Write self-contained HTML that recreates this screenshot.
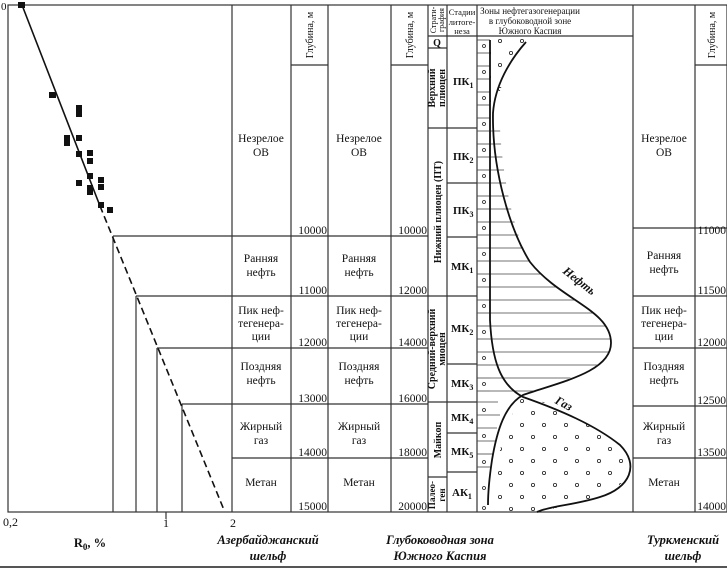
<!DOCTYPE html>
<html><head><meta charset="utf-8"><style>
html,body{margin:0;padding:0;background:#fff;}
svg{display:block;}
text{font-family:"Liberation Serif",serif;fill:#111;}
.l{font-size:11.5px;text-anchor:middle;}
.d{font-size:11.5px;text-anchor:end;}
.b{font-weight:bold;}
.t{font-size:12.5px;font-weight:bold;font-style:italic;text-anchor:middle;}
</style></head><body>
<svg width="727" height="572" viewBox="0 0 727 572" xmlns="http://www.w3.org/2000/svg">
<defs>
<pattern id="dots" x="0" y="0" width="22" height="24" patternUnits="userSpaceOnUse">
<circle cx="5" cy="5" r="1.6" fill="none" stroke="#222" stroke-width="0.8"/>
<circle cx="16" cy="17" r="1.6" fill="none" stroke="#222" stroke-width="0.8"/>
</pattern>
<clipPath id="oilclip"><path d="M490,128 L500,128 C502,170 512,230 530,262 C560,300 611,310 611,343 C611,370 560,380 523,395 L490,395 Z"/></clipPath>
<clipPath id="gasclip"><path d="M523,396 C560,405 590,425 618,445 C640,462 630,485 600,496 C580,504 555,508 537,512 L494,512 C494,470 500,430 523,396 Z"/></clipPath>
<clipPath id="topclip"><path d="M490,38 L530,38 C520,55 500,80 493,113 L490,113 Z"/></clipPath>
</defs>
<g stroke="#333" stroke-width="1.2" fill="none">
<rect x="8" y="5" width="719" height="507"/>
<line x1="232" y1="5" x2="232" y2="512"/>
<line x1="291" y1="5" x2="291" y2="512"/>
<line x1="328" y1="5" x2="328" y2="512"/>
<line x1="391" y1="5" x2="391" y2="512"/>
<line x1="428" y1="5" x2="428" y2="512"/>
<line x1="447" y1="5" x2="447" y2="512"/>
<line x1="477" y1="5" x2="477" y2="512"/>
<line x1="633" y1="5" x2="633" y2="512"/>
<line x1="695" y1="5" x2="695" y2="512"/>
<line x1="291" y1="65" x2="328" y2="65"/>
<line x1="391" y1="65" x2="428" y2="65"/>
<line x1="695" y1="65" x2="727" y2="65"/>
<line x1="428" y1="36" x2="633" y2="36"/>
<line x1="113" y1="236" x2="428" y2="236"/>
<line x1="136" y1="296" x2="428" y2="296"/>
<line x1="157" y1="348" x2="428" y2="348"/>
<line x1="182" y1="404" x2="428" y2="404"/>
<line x1="232" y1="458" x2="428" y2="458"/>
<line x1="113" y1="236" x2="113" y2="512"/>
<line x1="136" y1="296" x2="136" y2="512"/>
<line x1="157" y1="348" x2="157" y2="512"/>
<line x1="182" y1="404" x2="182" y2="512"/>
<line x1="633" y1="228" x2="727" y2="228"/>
<line x1="633" y1="296" x2="727" y2="296"/>
<line x1="633" y1="348" x2="727" y2="348"/>
<line x1="633" y1="406" x2="727" y2="406"/>
<line x1="633" y1="458" x2="727" y2="458"/>
<line x1="428" y1="48" x2="447" y2="48"/>
<line x1="428" y1="128" x2="447" y2="128"/>
<line x1="428" y1="296" x2="447" y2="296"/>
<line x1="428" y1="402" x2="447" y2="402"/>
<line x1="428" y1="477" x2="447" y2="477"/>
<line x1="447" y1="128" x2="477" y2="128"/>
<line x1="447" y1="183" x2="477" y2="183"/>
<line x1="447" y1="237" x2="477" y2="237"/>
<line x1="447" y1="296" x2="477" y2="296"/>
<line x1="447" y1="364" x2="477" y2="364"/>
<line x1="447" y1="402" x2="477" y2="402"/>
<line x1="447" y1="433" x2="477" y2="433"/>
<line x1="447" y1="472" x2="477" y2="472"/>
<line x1="166" y1="512" x2="166" y2="519"/>
</g>
<line x1="0" y1="567" x2="727" y2="567" stroke="#555" stroke-width="2"/>
<line x1="22" y1="5" x2="100" y2="206" stroke="#111" stroke-width="1.6"/>
<line x1="100" y1="206" x2="224" y2="510" stroke="#111" stroke-width="1.6" stroke-dasharray="7,4"/>
<g fill="#111">
<rect x="18" y="2" width="7" height="6"/>
<rect x="49" y="92" width="7" height="6"/>
<rect x="76" y="105" width="6" height="12"/>
<rect x="64" y="135" width="6" height="11"/>
<rect x="76" y="135" width="6" height="6"/>
<rect x="76" y="151" width="6" height="6"/>
<rect x="87" y="150" width="6" height="6"/>
<rect x="87" y="158" width="6" height="6"/>
<rect x="87" y="173" width="6" height="6"/>
<rect x="98" y="177" width="6" height="6"/>
<rect x="98" y="184" width="6" height="6"/>
<rect x="76" y="180" width="6" height="6"/>
<rect x="87" y="185" width="6" height="10"/>
<rect x="98" y="202" width="6" height="6"/>
<rect x="107" y="207" width="6" height="6"/>
</g>
<g stroke="#444" stroke-width="0.8">
<line x1="477" y1="40" x2="490" y2="40"/><line x1="477" y1="53" x2="490" y2="53"/><line x1="477" y1="66" x2="490" y2="66"/><line x1="477" y1="79" x2="490" y2="79"/><line x1="477" y1="92" x2="490" y2="92"/><line x1="477" y1="105" x2="490" y2="105"/><line x1="477" y1="118" x2="490" y2="118"/>
<line x1="477" y1="402" x2="498" y2="402"/><line x1="477" y1="415" x2="500" y2="415"/><line x1="477" y1="428" x2="497" y2="428"/><line x1="477" y1="441" x2="495" y2="441"/><line x1="477" y1="454" x2="493" y2="454"/><line x1="477" y1="467" x2="490" y2="467"/>
</g>
<g stroke="#444" stroke-width="0.8" clip-path="url(#oilclip)">
<line x1="477" y1="131" x2="620" y2="131"/><line x1="477" y1="144" x2="620" y2="144"/><line x1="477" y1="157" x2="620" y2="157"/><line x1="477" y1="170" x2="620" y2="170"/><line x1="477" y1="183" x2="620" y2="183"/><line x1="477" y1="196" x2="620" y2="196"/><line x1="477" y1="209" x2="620" y2="209"/><line x1="477" y1="222" x2="620" y2="222"/><line x1="477" y1="235" x2="620" y2="235"/><line x1="477" y1="248" x2="620" y2="248"/><line x1="477" y1="261" x2="620" y2="261"/><line x1="477" y1="274" x2="620" y2="274"/><line x1="477" y1="287" x2="620" y2="287"/><line x1="477" y1="300" x2="620" y2="300"/><line x1="477" y1="313" x2="620" y2="313"/><line x1="477" y1="326" x2="620" y2="326"/><line x1="477" y1="339" x2="620" y2="339"/><line x1="477" y1="352" x2="620" y2="352"/><line x1="477" y1="365" x2="620" y2="365"/><line x1="477" y1="378" x2="620" y2="378"/><line x1="477" y1="391" x2="620" y2="391"/>
</g>
<g stroke="#444" stroke-width="0.8">
<line x1="477" y1="131" x2="490" y2="131"/><line x1="477" y1="144" x2="490" y2="144"/><line x1="477" y1="157" x2="490" y2="157"/><line x1="477" y1="170" x2="490" y2="170"/><line x1="477" y1="183" x2="490" y2="183"/><line x1="477" y1="196" x2="490" y2="196"/><line x1="477" y1="209" x2="490" y2="209"/><line x1="477" y1="222" x2="490" y2="222"/><line x1="477" y1="235" x2="490" y2="235"/><line x1="477" y1="248" x2="490" y2="248"/><line x1="477" y1="261" x2="490" y2="261"/><line x1="477" y1="274" x2="490" y2="274"/><line x1="477" y1="287" x2="490" y2="287"/><line x1="477" y1="300" x2="490" y2="300"/><line x1="477" y1="313" x2="490" y2="313"/><line x1="477" y1="326" x2="490" y2="326"/><line x1="477" y1="339" x2="490" y2="339"/><line x1="477" y1="352" x2="490" y2="352"/><line x1="477" y1="365" x2="490" y2="365"/><line x1="477" y1="378" x2="490" y2="378"/><line x1="477" y1="391" x2="490" y2="391"/>
</g>
<rect x="490" y="396" width="150" height="116" fill="url(#dots)" clip-path="url(#gasclip)"/>
<rect x="490" y="38" width="40" height="80" fill="url(#dots)" clip-path="url(#topclip)"/>
<g fill="none" stroke="#222" stroke-width="0.8">
<circle cx="484" cy="46" r="1.5"/><circle cx="484" cy="72" r="1.5"/><circle cx="484" cy="98" r="1.5"/><circle cx="484" cy="124" r="1.5"/><circle cx="484" cy="150" r="1.5"/><circle cx="484" cy="176" r="1.5"/><circle cx="484" cy="202" r="1.5"/><circle cx="484" cy="228" r="1.5"/><circle cx="484" cy="254" r="1.5"/><circle cx="484" cy="280" r="1.5"/><circle cx="484" cy="306" r="1.5"/><circle cx="484" cy="332" r="1.5"/><circle cx="484" cy="358" r="1.5"/><circle cx="484" cy="384" r="1.5"/><circle cx="484" cy="410" r="1.5"/><circle cx="484" cy="436" r="1.5"/><circle cx="484" cy="462" r="1.5"/><circle cx="484" cy="488" r="1.5"/><circle cx="484" cy="508" r="1.5"/>
</g>
<path d="M526,42 C510,60 495,85 493,113 C492,170 510,230 530,262 C560,300 611,310 611,343 C611,372 560,382 523,395 C505,405 497,430 492,460 C489,480 488,495 488,505" fill="none" stroke="#111" stroke-width="1.8"/>
<path d="M490,40 L490,320 C492,360 500,385 523,397 C560,410 595,425 620,445 C640,465 630,488 600,497 C575,505 550,506 537,512" fill="none" stroke="#111" stroke-width="1.8"/>
<text x="577" y="284" transform="rotate(38 577 284)" style="font-size:12px;font-weight:bold;font-style:italic;text-anchor:middle">Нефть</text>
<text x="562" y="407" transform="rotate(28 562 407)" style="font-size:12px;font-weight:bold;font-style:italic;text-anchor:middle">Газ</text>
<text x="530" y="14" style="font-size:9px;text-anchor:middle">Зоны нефтегазогенерации</text>
<text x="530" y="24" style="font-size:9px;text-anchor:middle">в глубоководной зоне</text>
<text x="530" y="34" style="font-size:9px;text-anchor:middle">Южного Каспия</text>
<text x="462" y="15" style="font-size:8.5px;text-anchor:middle">Стадии</text>
<text x="462" y="25" style="font-size:8.5px;text-anchor:middle">литоге-</text>
<text x="462" y="34" style="font-size:8.5px;text-anchor:middle">неза</text>
<text transform="translate(436,20) rotate(-90)" style="font-size:8px;text-anchor:middle">Страти-</text>
<text transform="translate(444,20) rotate(-90)" style="font-size:8px;text-anchor:middle">графия</text>
<text transform="translate(313,35) rotate(-90)" style="font-size:10px;text-anchor:middle">Глубина, м</text>
<text transform="translate(413,35) rotate(-90)" style="font-size:10px;text-anchor:middle">Глубина, м</text>
<text transform="translate(715,35) rotate(-90)" style="font-size:10px;text-anchor:middle">Глубина, м</text>
<text x="437" y="46" class="b" style="font-size:10px;text-anchor:middle">Q</text>
<text transform="translate(435,88) rotate(-90)" class="b" style="font-size:10px;text-anchor:middle">Верхний</text>
<text transform="translate(445,88) rotate(-90)" class="b" style="font-size:10px;text-anchor:middle">плиоцен</text>
<text transform="translate(441,212) rotate(-90)" class="b" style="font-size:10px;text-anchor:middle">Нижний плиоцен (ПТ)</text>
<text transform="translate(435,349) rotate(-90)" class="b" style="font-size:10px;text-anchor:middle">Средний-верхний</text>
<text transform="translate(445,349) rotate(-90)" class="b" style="font-size:10px;text-anchor:middle">миоцен</text>
<text transform="translate(441,440) rotate(-90)" class="b" style="font-size:10px;text-anchor:middle">Майкоп</text>
<text transform="translate(435,495) rotate(-90)" class="b" style="font-size:9px;text-anchor:middle">Палео-</text>
<text transform="translate(445,495) rotate(-90)" class="b" style="font-size:9px;text-anchor:middle">ген</text>
<g class="b" style="font-size:11px">
<text x="453" y="85">ПК<tspan dy="3" font-size="8">1</tspan></text>
<text x="453" y="160">ПК<tspan dy="3" font-size="8">2</tspan></text>
<text x="453" y="214">ПК<tspan dy="3" font-size="8">3</tspan></text>
<text x="451" y="270">МК<tspan dy="3" font-size="8">1</tspan></text>
<text x="451" y="332">МК<tspan dy="3" font-size="8">2</tspan></text>
<text x="451" y="387">МК<tspan dy="3" font-size="8">3</tspan></text>
<text x="451" y="421">МК<tspan dy="3" font-size="8">4</tspan></text>
<text x="451" y="455">МК<tspan dy="3" font-size="8">5</tspan></text>
<text x="452" y="496">АК<tspan dy="3" font-size="8">1</tspan></text>
</g>
<g class="l">
<text x="261" y="142">Незрелое</text><text x="261" y="156">ОВ</text>
<text x="261" y="262">Ранняя</text><text x="261" y="276">нефть</text>
<text x="261" y="314">Пик неф-</text><text x="261" y="327">тегенера-</text><text x="261" y="340">ции</text>
<text x="261" y="370">Поздняя</text><text x="261" y="384">нефть</text>
<text x="261" y="430">Жирный</text><text x="261" y="444">газ</text>
<text x="261" y="486">Метан</text>
<text x="359" y="142">Незрелое</text><text x="359" y="156">ОВ</text>
<text x="359" y="262">Ранняя</text><text x="359" y="276">нефть</text>
<text x="359" y="314">Пик неф-</text><text x="359" y="327">тегенера-</text><text x="359" y="340">ции</text>
<text x="359" y="370">Поздняя</text><text x="359" y="384">нефть</text>
<text x="359" y="430">Жирный</text><text x="359" y="444">газ</text>
<text x="359" y="486">Метан</text>
<text x="664" y="142">Незрелое</text><text x="664" y="156">ОВ</text>
<text x="664" y="259">Ранняя</text><text x="664" y="273">нефть</text>
<text x="664" y="314">Пик неф-</text><text x="664" y="327">тегенера-</text><text x="664" y="340">ции</text>
<text x="664" y="370">Поздняя</text><text x="664" y="384">нефть</text>
<text x="664" y="430">Жирный</text><text x="664" y="444">газ</text>
<text x="664" y="486">Метан</text>
</g>
<g class="d">
<text x="327" y="234">10000</text><text x="327" y="294">11000</text><text x="327" y="346">12000</text><text x="327" y="402">13000</text><text x="327" y="456">14000</text><text x="327" y="510">15000</text>
<text x="427" y="234">10000</text><text x="427" y="294">12000</text><text x="427" y="346">14000</text><text x="427" y="402">16000</text><text x="427" y="456">18000</text><text x="427" y="510">20000</text>
<text x="726" y="234">11000</text><text x="726" y="294">11500</text><text x="726" y="346">12000</text><text x="726" y="404">12500</text><text x="726" y="456">13500</text><text x="726" y="510">14000</text>
</g>
<text x="1" y="10" style="font-size:11px">0</text>
<text x="3" y="526" style="font-size:12px">0,2</text>
<text x="166" y="527" style="font-size:12px;text-anchor:middle">1</text>
<text x="233" y="527" style="font-size:12px;text-anchor:middle">2</text>
<text x="90" y="547" style="font-size:12.5px;font-weight:bold;text-anchor:middle">R<tspan dy="3" font-size="9">0</tspan><tspan dy="-3">, %</tspan></text>
<text x="268" y="544" class="t">Азербайджанский</text><text x="268" y="560" class="t">шельф</text>
<text x="440" y="544" class="t">Глубоководная зона</text><text x="440" y="560" class="t">Южного Каспия</text>
<text x="683" y="544" class="t">Туркменский</text><text x="683" y="560" class="t">шельф</text>
</svg>
</body></html>
